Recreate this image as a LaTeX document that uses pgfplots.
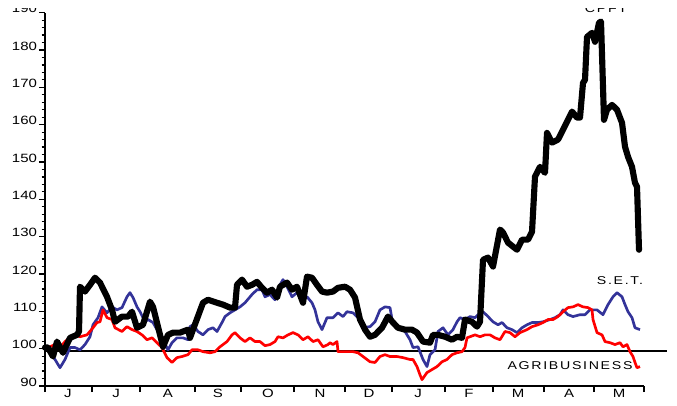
\documentclass[border=0pt]{standalone}
\usepackage{pgfplots}
\pgfplotsset{compat=1.18}
\usepackage{pgfplotstable}
\usepackage{fontspec}
\setmainfont{Liberation Sans}

\definecolor{setblue}{RGB}{51,51,153}
\definecolor{agrired}{RGB}{255,0,0}

% x is in screen units of the time axis (month boundaries below), y is the index
\pgfplotstableread{
x v
45 100.3
48 100.3
53 97.9
57 101.9
63 98.9
70 102.9
77 103.7
79 104.6
80 116.6
85 115.3
90 117.1
95 119.0
100 117.7
107 113.9
112 110.4
115 107.2
122 108.6
128 108.6
132 109.9
137 105.6
143 106.4
150 112.6
153 111.2
158 105.9
163 100.5
168 103.7
173 104.3
180 104.3
188 105.1
190 102.9
193 105.1
203 112.3
208 113.1
217 112.3
223 111.8
230 111.0
235 111.0
237 117.1
242 118.5
247 116.6
252 117.1
257 117.9
262 116.3
267 115.0
272 115.8
277 113.7
280 116.6
287 117.7
292 115.8
297 116.6
303 112.3
307 119.3
312 119.0
317 117.1
322 115.3
327 115.0
333 115.3
338 116.3
345 116.6
350 115.8
355 113.7
360 107.8
365 105.1
370 103.2
375 103.7
382 105.6
388 108.6
393 107.0
398 105.6
405 105.1
412 105.1
417 104.3
423 101.9
430 101.6
433 103.7
438 103.7
445 103.2
452 102.4
457 103.2
462 102.9
465 107.8
472 107.2
477 105.9
480 107.2
483 123.8
488 124.4
493 122.0
500 131.9
503 131.1
508 128.4
517 126.5
522 129.2
528 129.2
532 131.3
535 146.1
540 148.7
545 147.1
547 157.8
552 155.2
558 156.0
562 158.1
567 160.8
572 163.5
577 161.9
580 161.9
583 171.2
585 172.0
587 183.5
592 184.6
595 182.2
599 187.3
601 187.6
604 161.3
607 164.0
612 165.3
617 164.0
622 160.5
625 154.1
628 151.4
632 148.7
635 144.4
637 143.4
639 126.5
}\cpft

\pgfplotstableread{
x v
45 100.3
50 99.2
55 97.1
60 94.9
65 97.1
70 100.3
75 100.3
80 99.7
85 101.1
90 103.2
93 106.4
98 108.3
102 111.2
107 109.6
112 111.2
117 110.4
122 111.0
127 113.9
130 115.0
133 113.7
137 111.2
140 109.9
145 107.2
148 107.8
153 107.0
158 104.6
163 102.4
168 99.7
172 101.6
177 102.9
183 102.9
188 102.4
190 105.9
193 106.4
198 104.6
203 103.7
208 105.1
213 105.6
217 104.6
222 107.0
225 108.6
230 109.6
235 110.4
240 111.2
245 112.3
252 114.5
257 115.8
262 115.8
265 113.9
270 114.5
275 113.1
280 117.1
283 118.5
287 116.6
292 113.9
297 115.0
302 113.1
307 113.9
312 112.3
315 110.4
318 107.2
322 105.1
327 108.3
333 108.3
338 109.6
343 108.6
347 109.9
353 109.6
358 108.3
363 105.6
370 105.9
375 107.2
380 110.4
385 111.2
390 111.0
393 106.4
398 105.6
405 104.6
410 102.4
413 100.3
418 100.5
423 97.1
427 95.2
430 98.4
435 99.7
438 104.6
443 105.6
448 103.7
453 105.1
457 107.2
460 108.3
465 107.8
470 108.6
475 108.3
478 109.1
483 109.9
488 108.6
493 107.2
498 106.4
502 107.0
507 105.6
512 105.1
517 104.3
522 105.6
527 106.4
532 107.0
538 107.0
543 107.2
550 107.8
555 108.3
560 109.1
563 110.4
568 109.1
573 108.6
580 109.1
585 109.1
590 110.4
597 110.4
603 109.1
608 111.8
613 113.9
617 115.0
622 113.9
625 111.8
628 109.9
632 108.3
635 105.6
640 105.1
}\setidx

\pgfplotstableread{
x v
45 100.5
48 100.3
55 101.1
60 100.3
65 101.9
70 102.9
75 103.7
80 103.2
87 103.7
93 105.6
97 107.0
100 107.2
103 110.4
107 108.3
112 107.8
115 105.6
122 104.6
127 105.9
132 105.1
137 104.6
142 103.7
147 102.4
152 102.9
157 101.6
162 100.3
167 97.6
172 96.3
177 97.6
182 97.9
188 98.4
192 99.7
198 99.7
203 99.2
210 98.9
215 99.2
220 100.5
227 101.9
232 103.7
235 104.3
240 102.9
245 101.9
250 102.9
255 101.9
260 101.9
265 100.8
270 101.1
275 101.9
278 103.2
283 102.9
288 103.7
293 104.3
298 103.7
303 102.4
308 103.2
313 101.9
318 102.4
323 100.5
328 101.1
330 101.6
333 101.1
337 101.9
338 99.2
345 99.2
353 99.2
358 98.9
363 97.9
370 96.5
375 96.3
380 97.9
385 98.4
390 97.9
397 97.9
403 97.6
410 97.1
413 97.1
417 95.2
420 93.0
422 91.7
427 93.6
432 94.4
437 95.2
442 96.5
447 97.1
452 98.4
457 98.9
462 99.2
465 100.3
467 102.9
470 103.2
475 103.7
480 103.2
485 103.7
490 103.7
495 102.9
500 102.4
505 104.6
510 104.3
515 103.2
520 104.3
527 105.1
532 105.9
538 106.4
543 107.0
548 107.8
553 107.8
558 108.6
563 109.9
568 111.0
573 111.2
578 111.8
583 111.2
588 111.0
592 110.4
593 107.8
597 104.3
602 103.7
605 101.9
610 101.6
615 101.1
620 101.6
623 100.5
627 101.1
630 99.2
633 97.9
635 96.3
637 94.9
640 95.2
}\agri

\begin{document}
\begin{tikzpicture}
\begin{axis}[
  at={(0,0)}, anchor=south west,
  scale only axis,
  width=449.25pt, height=280pt,
  xmin=45, xmax=644,
  ymin=90, ymax=190,
  clip=false,
  axis x line*=bottom,
  axis y line*=left,
  axis line style={line width=1.1pt},
  tick align=outside,
  tick style={black, line width=0.9pt},
  major tick length=4.5pt,
  minor tick length=2.6pt,
  xtick={45,92,140,195,241,294,345,392,445,493,544,594,644},
  xticklabels={},
  extra x ticks={68,116,168,218,268,320,369,418,469,518,569,619},
  extra x tick labels={J,J,A,S,O,N,D,J,F,M,A,M},
  extra x tick style={major tick length=0pt, tick style={draw=none}},
  ytick={90,100,...,190},
  minor y tick num=4,
  /pgf/number format/assume math mode=true,
  tick label style={font=\fontsize{9}{10}\selectfont, xscale=1.25},
  yticklabel style={inner sep=1pt, yshift=3pt},
  xticklabel style={inner sep=2pt},
]
\addplot[black, line width=1.5pt] coordinates {(45,99.5) (667,99.5)};
\addplot[setblue, line width=2pt, line join=round] table[x=x, y=v] {\setidx};
\addplot[agrired, line width=2pt, line join=round] table[x=x, y=v] {\agri};
\addplot[black, line width=4.6pt, line join=round, line cap=round] table[x=x, y=v] {\cpft};

\node[font=\fontsize{8.5}{9}\selectfont\addfontfeature{LetterSpace=12}, xscale=1.25]
  at (axis cs:620,118.2) {S.E.T.};
\node[font=\fontsize{8.5}{9}\selectfont\addfontfeature{LetterSpace=12}, xscale=1.25]
  at (axis cs:570,95.4) {AGRIBUSINESS};
\node[font=\fontsize{8.5}{9}\selectfont\addfontfeature{LetterSpace=12}, xscale=1.25, anchor=base]
  at (axis cs:606,190.1) {CPFT};
\end{axis}
\fill[white] (-33.75pt,283.5pt) rectangle (474pt,290pt);
\pgfresetboundingbox
\path[use as bounding box] (-33.75pt,-14.25pt) rectangle (474pt,289.5pt);
\end{tikzpicture}
\end{document}
